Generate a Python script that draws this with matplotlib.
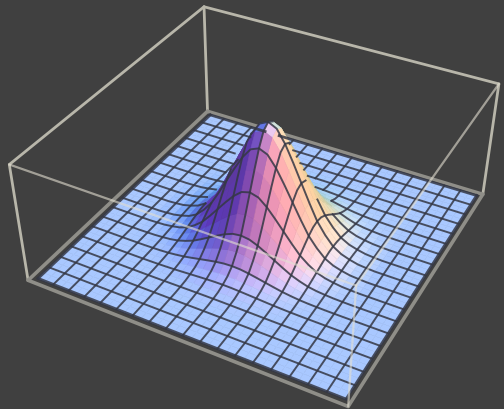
import numpy as np
import matplotlib
matplotlib.use('Agg')
import matplotlib.pyplot as plt

# height of the bump at half cell steps
x_profile = [0, 0, 0, 0, 0, 0, 0.005, 0.012, 0.03, 0.055, 0.10, 0.18, 0.28, 0.42, 0.57, 0.72, 0.86, 0.965, 1.0,
             0.965, 0.86, 0.72, 0.57, 0.42, 0.28, 0.18, 0.10, 0.055, 0.03, 0.012, 0.005, 0, 0, 0, 0, 0, 0]
y_profile = [0, 0, 0, 0, 0, 0, 0.005, 0.012, 0.03, 0.055, 0.10, 0.18, 0.28, 0.42, 0.57, 0.72, 0.86, 0.965, 1.0,
             0.965, 0.86, 0.72, 0.57, 0.42, 0.28, 0.18, 0.10, 0.055, 0.03, 0.012, 0.005, 0, 0, 0, 0, 0, 0]
x_edges = [0, 1]
y_edges = [0, 1]
z_edges = [0, 1]
grid_start = 0.02
grid_stop = 0.985

elev, azim, roll = 36.49, -61.94, -0.21
z_aspect = 0.4045

fig = plt.figure(figsize=(5.04, 4.10), dpi=100, facecolor='#404040')
ax = fig.add_axes([0.3152, 0.2936, 0.4169, 0.4169 * 504 / 410], projection='3d', computed_zorder=False)
ax.set_proj_type('persp', focal_length=1)
ax.view_init(elev=elev, azim=azim, roll=roll)
ax.set_box_aspect((1, 1, z_aspect), zoom=2.3609)
ax.set_xlim(x_edges)
ax.set_ylim(y_edges)
ax.set_zlim(z_edges)
ax.set_axis_off()
ax.patch.set_visible(False)

Z = np.outer(y_profile, x_profile)
n = len(x_profile)
xs = np.linspace(grid_start, grid_stop, n)
ys = np.linspace(grid_start, grid_stop, n)
X, Y = np.meshgrid(xs, ys)
step = xs[1] - xs[0]

# three coloured lights in view coordinates, like the old Mathematica surfaces
a = np.radians(azim)
e = np.radians(elev)
cam = np.array([np.cos(e) * np.cos(a), np.cos(e) * np.sin(a), np.sin(e)])
right = np.array([-np.sin(a), np.cos(a), 0])
up = np.cross(cam, right)
dzdx = (Z[:-1, 1:] + Z[1:, 1:] - Z[:-1, :-1] - Z[1:, :-1]) / 2 / step * z_aspect
dzdy = (Z[1:, :-1] + Z[1:, 1:] - Z[:-1, :-1] - Z[:-1, 1:]) / 2 / step * z_aspect
normal = np.dstack([-dzdx, -dzdy, np.ones_like(dzdx)])
normal /= np.linalg.norm(normal, axis=2, keepdims=True)
nv = np.dstack([normal @ right, normal @ up, normal @ cam])
red = 0.36 + 0.72 * np.clip(nv @ (np.array([1, 0, 1]) / np.sqrt(2)), 0, 1)
green = 0.22 + 0.70 * np.clip(nv @ (np.array([1, 1, 1]) / np.sqrt(3)), 0, 1)
blue = 0.35 + 0.67 * np.clip(nv @ (np.array([0, 1, 1]) / np.sqrt(2)), 0, 1)
faces = np.clip(np.dstack([red, green, blue, np.ones_like(red)]), 0, 1)


def hidden(x, y, z):
    # walk from the point towards the camera and see if the surface is in the way
    for t in np.arange(0.015, 0.7, 0.008):
        px = x + t * cam[0]
        py = y + t * cam[1]
        pz = z + t * cam[2] / z_aspect
        if pz > 1:
            return False
        i = int(round((py - grid_start) / step))
        j = int(round((px - grid_start) / step))
        if 0 <= i < n and 0 <= j < n and pz < Z[i, j] - 0.02:
            return True
    return False


box = '#b8b6aa'
outline = '#8f8e88'
mesh = '#353845'


def edge(p, q, **kw):
    line = ax.plot([p[0], q[0]], [p[1], q[1]], [p[2], q[2]], solid_capstyle='round', **kw)[0]
    line.set_clip_on(False)


# behind the surface
edge((0, 1, 0), (0, 1, 1), color=box, lw=2, zorder=1)
edge((0, 0, 1), (0, 1, 1), color=box, lw=2, zorder=1)
edge((0, 1, 1), (1, 1, 1), color=box, lw=2, zorder=1)
edge((0, 0, 0), (0, 0, 1), color=box, lw=2, zorder=1)
edge((1, 1, 0), (1, 1, 1), color=box, lw=2, zorder=1)
edge((1, 1, 0), (0, 1, 0), color=outline, lw=2.6, zorder=1.5)
edge((0, 1, 0), (0, 0, 0), color=outline, lw=2.6, zorder=1.5)

surf = ax.plot_surface(X, Y, Z, facecolors=faces, rstride=1, cstride=1, shade=False, linewidth=0.4, zorder=2)
surf.set_clip_on(False)

# mesh every second row and column, hidden parts left out
for k in range(0, n, 2):
    width = 2.0 if k in (0, n - 1) else 1.4
    for lx, ly, lz in ((xs, np.full(n, ys[k]), Z[k, :].copy()), (np.full(n, xs[k]), ys, Z[:, k].copy())):
        mask = np.array([hidden(u, v, w) for u, v, w in zip(lx, ly, lz)])
        lz[mask] = np.nan
        line = ax.plot(lx, ly, lz, color=mesh, lw=width, alpha=0.85, zorder=3)[0]
        line.set_clip_on(False)

# floor outline at the front
edge((0, 0, 0), (1, 0, 0), color=outline, lw=2.6, zorder=4)
edge((1, 0, 0), (1, 1, 0), color=outline, lw=2.6, zorder=4)

# front edges stay faint over the surface
front = dict(color='#e4e0d2', lw=1.6, alpha=0.6, zorder=5)
edge((0, 0, 1), (1, 0, 1), **front)
edge((1, 0, 1), (1, 1, 1), **front)
edge((1, 0, 0), (1, 0, 1), **front)

fig.savefig('out.png', dpi=100, facecolor=fig.get_facecolor())
